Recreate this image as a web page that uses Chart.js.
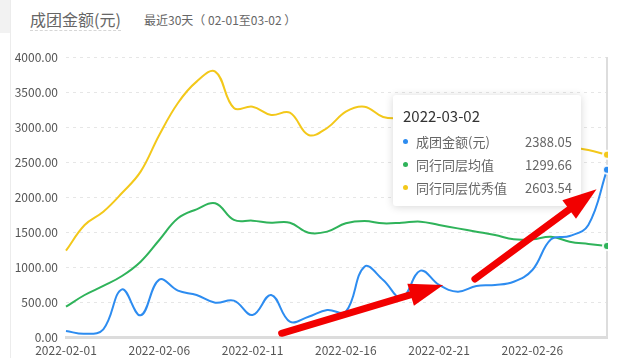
<!DOCTYPE html>
<html>
<head>
<meta charset="utf-8">
<script src="https://cdn.jsdelivr.net/npm/chart.js@4/dist/chart.umd.min.js"></script>
<style>
    body { margin: 0; background: #fff; font-family: "Noto Sans CJK SC", "Open Sans", sans-serif; }
    #wrap { position: relative; width: 638px; height: 358px; overflow: hidden; }
    #strip { position: absolute; left: 0; top: 0; width: 10px; height: 33px; background: #f2f2f2; }
    #vline { position: absolute; left: 10px; top: 0; width: 1px; height: 358px; background: #ececec; }
    #title { position: absolute; left: 30px; top: 8px; font-size: 16px; color: #666; line-height: 22px; border-bottom: 1px dashed #d6d6d6; }
    #sub { position: absolute; left: 144px; top: 11px; font-size: 12px; color: #666; line-height: 18px; }
    #box { position: absolute; left: 0; top: 0; width: 638px; height: 358px; }
    #arrows { position: absolute; left: 0; top: 0; pointer-events: none; z-index: 5; }
    #tip { position: absolute; width: 188px; box-sizing: border-box; background: #fff; border-radius: 3px;
           box-shadow: 0 1px 8px rgba(0,0,0,0.16); padding: 11px 9px 7px 10px; opacity: 0; z-index: 3; }
    #tip .t { font-size: 15px; color: #333; line-height: 20px; margin-bottom: 4px; }
    #tip .r { display: flex; align-items: center; height: 23px; font-size: 13px; color: #666; }
    #tip .d { width: 5px; height: 5px; border-radius: 50%; margin-right: 8px; }
    #tip .l { flex: 1; }
</style>
</head>
<body>
<div id="wrap">
    <div id="strip"></div>
    <div id="vline"></div>
    <div id="title">成团金额(元)</div>
    <div id="sub">最近30天（ 02-01至03-02 ）</div>
    <div id="box"><canvas id="chart"></canvas></div>
    <div id="tip"></div>
    <canvas id="arrows" width="638" height="358"></canvas>
</div>
<script>
const dateLabels = [
    "2022-02-01", "2022-02-02", "2022-02-03", "2022-02-04", "2022-02-05",
    "2022-02-06", "2022-02-07", "2022-02-08", "2022-02-09", "2022-02-10",
    "2022-02-11", "2022-02-12", "2022-02-13", "2022-02-14", "2022-02-15",
    "2022-02-16", "2022-02-17", "2022-02-18", "2022-02-19", "2022-02-20",
    "2022-02-21", "2022-02-22", "2022-02-23", "2022-02-24", "2022-02-25",
    "2022-02-26", "2022-02-27", "2022-02-28", "2022-03-01", "2022-03-02"
];

const seriesNames = ["成团金额(元)", "同行同层均值", "同行同层优秀值"];
const seriesColors = ["#2d8cf0", "#2fb35a", "#f3c81a"];

const groupAmount = [86, 45, 110, 681, 310, 820, 662, 600, 490, 519, 314, 600, 219, 290, 386, 362, 1005, 814, 560, 948, 743, 648, 729, 743, 790, 957, 1395, 1443, 1600, 2388.05];
const peerAverage = [433, 600, 729, 871, 1076, 1386, 1696, 1824, 1910, 1672, 1662, 1633, 1633, 1490, 1505, 1624, 1657, 1624, 1633, 1648, 1600, 1552, 1505, 1457, 1395, 1395, 1433, 1362, 1329, 1299.66];
const peerExcellent = [1233, 1600, 1790, 2057, 2362, 2886, 3343, 3648, 3791, 3271, 3290, 3172, 3205, 2886, 2986, 3219, 3290, 3143, 3120, 3080, 3020, 2980, 2950, 2900, 2880, 2820, 2780, 2720, 2671, 2603.54];

// arrows drawn over the picture: [fromIndex, fromValue, toIndex, toValue]
const arrowMarks = [
    [11.56, 53, 20.22, 743],
    [21.92, 829, 28.44, 2110]
];

const fontFamily = '"Noto Sans CJK SC", "Open Sans", sans-serif';

function externalTooltip(context) {
    const { chart, tooltip } = context;
    const el = document.getElementById("tip");
    if (tooltip.opacity === 0) {
        el.style.opacity = 0;
        return;
    }
    let html = '<div class="t">' + tooltip.title[0] + '</div>';
    tooltip.dataPoints.forEach(function (dp) {
        html += '<div class="r"><span class="d" style="background:' + seriesColors[dp.datasetIndex] + '"></span>'
            + '<span class="l">' + dp.dataset.label + '</span><span>' + dp.parsed.y.toFixed(2) + '</span></div>';
    });
    el.innerHTML = html;
    el.style.left = (tooltip.caretX - 26 - 188) + "px";
    el.style.top = (chart.chartArea.top + 38) + "px";
    el.style.opacity = 1;
}

const crosshair = {
    id: "crosshair",
    beforeDatasetsDraw(chart) {
        const active = chart.getActiveElements();
        if (!active.length) return;
        const x = active[0].element.x;
        const ctx = chart.ctx;
        ctx.save();
        ctx.strokeStyle = "#dddddd";
        ctx.lineWidth = 2;
        ctx.beginPath();
        ctx.moveTo(x, chart.chartArea.top);
        ctx.lineTo(x, chart.chartArea.bottom);
        ctx.stroke();
        ctx.restore();
    }
};

function drawArrow(ctx, x1, y1, x2, y2) {
    const len = Math.hypot(x2 - x1, y2 - y1);
    const ux = (x2 - x1) / len, uy = (y2 - y1) / len;
    const headLen = 34, headHalf = 11.5;
    const bx = x2 - ux * headLen, by = y2 - uy * headLen;
    ctx.strokeStyle = "#f20000";
    ctx.fillStyle = "#f20000";
    ctx.lineWidth = 7;
    ctx.lineCap = "round";
    ctx.beginPath();
    ctx.moveTo(x1, y1);
    ctx.lineTo(bx + ux * 4, by + uy * 4);
    ctx.stroke();
    ctx.beginPath();
    ctx.moveTo(x2, y2);
    ctx.lineTo(bx - uy * headHalf, by + ux * headHalf);
    ctx.lineTo(bx + uy * headHalf, by - ux * headHalf);
    ctx.closePath();
    ctx.fill();
}

const arrowLayer = {
    id: "arrowLayer",
    afterDraw(chart) {
        const ctx = document.getElementById("arrows").getContext("2d");
        ctx.clearRect(0, 0, 638, 358);
        const xs = chart.scales.x, ys = chart.scales.y;
        arrowMarks.forEach(function (a) {
            drawArrow(ctx, xs.getPixelForValue(a[0]), ys.getPixelForValue(a[1]),
                xs.getPixelForValue(a[2]), ys.getPixelForValue(a[3]));
        });
    }
};

function makeDataset(i, values) {
    return {
        label: seriesNames[i],
        data: values,
        borderColor: seriesColors[i],
        backgroundColor: seriesColors[i],
        borderWidth: 2,
        tension: 0.4,
        pointRadius: 0,
        pointHoverRadius: 4,
        pointHoverBorderWidth: 2,
        pointHoverBorderColor: "rgba(255,255,255,0.9)",
        pointHoverBackgroundColor: seriesColors[i],
        fill: false
    };
}

const chart = new Chart(document.getElementById("chart"), {
    type: "line",
    data: {
        labels: dateLabels,
        datasets: [
            makeDataset(0, groupAmount),
            makeDataset(1, peerAverage),
            makeDataset(2, peerExcellent)
        ]
    },
    options: {
        responsive: true,
        maintainAspectRatio: false,
        animation: false,
        interaction: { mode: "index", intersect: false },
        layout: { padding: { top: 57, right: 31, left: 0, bottom: 0 } },
        plugins: {
            legend: { display: false },
            tooltip: { enabled: false, mode: "index", intersect: false, external: externalTooltip }
        },
        scales: {
            x: {
                grid: { display: false, drawTicks: false },
                border: { display: true, color: "#dcdcdc", width: 3 },
                ticks: {
                    autoSkip: false,
                    maxRotation: 0,
                    padding: 6,
                    color: "#555",
                    font: { size: 12, family: fontFamily },
                    callback: function (v, i) { return i % 5 === 0 ? dateLabels[i] : ""; }
                },
                afterFit: function (scale) { scale.height = 21; }
            },
            y: {
                min: 0,
                max: 4000,
                grid: { color: "#e6e6e6", drawTicks: false },
                border: { display: false, dash: [3, 4] },
                ticks: {
                    stepSize: 500,
                    padding: 8,
                    color: "#555",
                    font: { size: 12, family: fontFamily },
                    callback: function (v) { return v.toFixed(2); }
                },
                afterFit: function (scale) { scale.width = 66; }
            }
        }
    },
    plugins: [crosshair, arrowLayer]
});

const lastIndex = dateLabels.length - 1;
const activePoints = [0, 1, 2].map(function (d) { return { datasetIndex: d, index: lastIndex }; });
chart.setActiveElements(activePoints);
chart.tooltip.setActiveElements(activePoints, { x: 0, y: 0 });
chart.update("none");
</script>
</body>
</html>
